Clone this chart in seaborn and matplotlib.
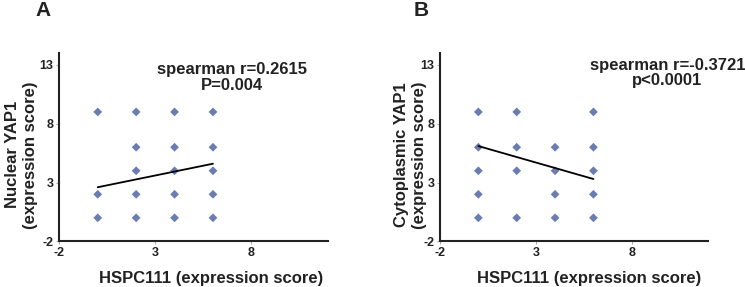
import matplotlib
matplotlib.use("Agg")
import matplotlib.pyplot as plt
import seaborn as sns
import pandas as pd

sns.set_style("white")
plt.rcParams['font.family'] = ['Liberation Sans', 'DejaVu Sans']

# panel A: nuclear YAP1 vs HSPC111 (visible distinct score pairs)
a_x = [0, 0, 0, 2, 2, 2, 2, 2, 4, 4, 4, 4, 4, 6, 6, 6, 6, 6]
a_y = [9, 2, 0, 9, 6, 4, 2, 0, 9, 6, 4, 2, 0, 9, 6, 4, 2, 0]
# panel B: cytoplasmic YAP1 vs HSPC111
b_x = [0, 0, 0, 0, 0, 2, 2, 2, 2, 4, 4, 4, 4, 6, 6, 6, 6, 6]
b_y = [9, 6, 4, 2, 0, 9, 6, 4, 0, 6, 4, 2, 0, 9, 6, 4, 2, 0]

# fitted trend lines (end points)
fit_x = [0, 6]
fit_a = [2.6, 4.6]
fit_b = [6.1, 3.3]

xticks = [-2, 3, 8]
yticks = [-2, 3, 8, 13]
xtick_labels = ['-2', '3', '8']
ytick_labels = ['-2', '3', '8', '13']

panels = [
    dict(x=a_x, y=a_y, fit=fit_a, letter='A', ylab='Nuclear YAP1\n(expression score)',
         stat='spearman r=0.2615\nP=0.004', stat_xy=(7.0, 11.95), xlab_x=0.564,
         ylab_x=-0.081, rect=[0.0796, 0.159, 0.361, 0.656], letter_xy=(0.047, 0.944)),
    dict(x=b_x, y=b_y, fit=fit_b, letter='B', ylab='Cytoplasmic YAP1\n(expression score)',
         stat='spearman r=-0.3721\np<0.0001', stat_xy=(9.85, 12.3), xlab_x=0.556,
         ylab_x=-0.048, rect=[0.5906, 0.159, 0.3604, 0.656], letter_xy=(0.555, 0.944)),
]

fig = plt.figure(figsize=(7.45, 2.87), dpi=100)
tick_family = ['Liberation Sans Narrow', 'Liberation Sans', 'DejaVu Sans']

for p in panels:
    ax = fig.add_axes(p['rect'])
    df = pd.DataFrame({'x': p['x'], 'y': p['y']})
    sns.scatterplot(data=df, x='x', y='y', marker='D', s=20, color='#6b7db0',
                    edgecolor='none', ax=ax)
    sns.lineplot(x=fit_x, y=p['fit'], color='black', linewidth=1.3, ax=ax)

    ax.set_xlim(-2, 12)
    ax.set_ylim(-2, 14)
    ax.set_xticks(xticks)
    ax.set_yticks(yticks)
    ax.set_xticklabels(xtick_labels, family=tick_family, fontsize=9,
                       fontweight='bold', color='#222222')
    ax.set_yticklabels(ytick_labels, family=tick_family, fontsize=9,
                       fontweight='bold', color='#222222')
    ax.tick_params(axis='both', length=2, width=0.6, color='#999999', pad=2,
                   bottom=True, left=True)

    sns.despine(ax=ax)
    for side in ['left', 'bottom']:
        ax.spines[side].set_linewidth(1.5)
        ax.spines[side].set_color('#222222')

    ax.set_xlabel('HSPC111 (expression score)', fontsize=12, fontweight='bold',
                  color='#222222', va='top')
    ax.xaxis.set_label_coords(p['xlab_x'], -0.155)
    ax.set_ylabel(p['ylab'], fontsize=12, fontweight='bold', color='#222222',
                  linespacing=1.25)
    ax.yaxis.set_label_coords(p['ylab_x'], 0.46)

    ax.text(p['stat_xy'][0], p['stat_xy'][1], p['stat'], ha='center', va='center',
            fontsize=12, fontweight='bold', color='#222222', linespacing=1.05,
            clip_on=False)
    fig.text(p['letter_xy'][0], p['letter_xy'][1], p['letter'], fontsize=15,
             fontweight='bold', color='#222222')

fig.savefig('out.png', dpi=100)
